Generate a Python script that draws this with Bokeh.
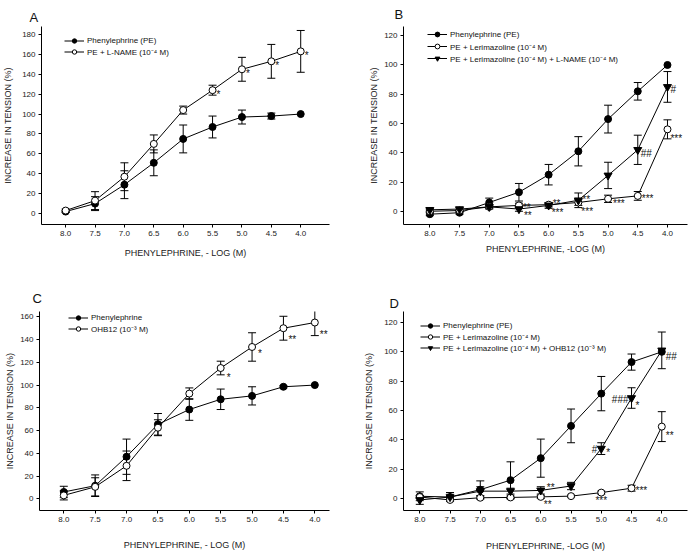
from bokeh.plotting import figure
from bokeh.models import (Range1d, FixedTicker, Whisker, TeeHead, ColumnDataSource,
                          Legend, LegendItem, PrintfTickFormatter)
from bokeh.layouts import row, column
from bokeh.embed import file_html
from bokeh.resources import INLINE
from bokeh.core.properties import value

FONT = "Liberation Sans"

# Phenylephrine concentrations, -log(M)
conc = [8.0, 7.5, 7.0, 6.5, 6.0, 5.5, 5.0, 4.5, 4.0]

# Panel A
pe_a = [2, 10, 29, 51, 75, 87, 97, 98, 100]
pe_a_err = [1, 7, 14, 13, 14, 11, 7, 3, 0]
lname_a = [3, 13, 37, 70, 104, 124, 145, 153, 163]
lname_a_err = [1.5, 9, 14, 9, 4, 5, 12, 17, 21]

# Panel B
pe_b = [-2, -1, 6, 13, 25, 41, 63, 82, 100]
pe_b_err = [1, 1, 3, 6, 7, 10, 9.5, 6, 0]
ler_b = [0, 0.5, 3, 4, 4.5, 6, 8.5, 10.5, 56]
ler_b_err = [1, 1, 1, 1.5, 1.5, 2, 2.5, 3, 6.5]
lerln_b = [1, 1.5, 3, 1.5, 4, 7.5, 24.5, 42, 85]
lerln_b_err = [1, 1, 1.5, 1.5, 2, 5, 9, 10, 10.5]

# Panel C
pe_c = [6, 11.5, 37, 65.5, 78.5, 87.5, 90.5, 98.5, 100]
pe_c_err = [5, 9.5, 15.5, 9.5, 9.5, 9, 8, 1, 0]
ohb_c = [3, 10.5, 29, 62.5, 92.5, 115, 133.5, 150, 155]
ohb_c_err = [4, 8, 13, 7, 5, 6, 12.5, 10.5, 11.5]

# Panel D
pe_d = [1.5, 1, 6, 12.5, 27.5, 49.5, 71.5, 93, 100]
pe_d_err = [3, 3, 6, 12.5, 13, 11.5, 11.7, 5.5, 0]
ler_d = [1, -1, 0.5, 0.7, 1.1, 1.6, 4, 7, 49]
ler_d_err = [1, 1, 1, 1, 1, 0.7, 1, 2, 10.2]
lerohb_d = [-1, 1, 5, 5, 5.5, 8.5, 34, 68.5, 101]
lerohb_d_err = [3, 3, 3, 2, 2.5, 2.5, 4, 7, 12.5]

xticks = [8.0, 7.5, 7.0, 6.5, 6.0, 5.5, 5.0, 4.5, 4.0]

MARKERS = {
    "filled": dict(marker="circle", size=7, fill_color="black"),
    "open": dict(marker="circle", size=7, fill_color="white"),
    "tri": dict(marker="inverted_triangle", size=8, fill_color="black"),
}


def make_panel(letter, series, anns, xlab, ymax_tick, x_rng, y_rng, borders,
               title_off, title_standoff, leg_pos, leg_row, ylab_standoff, xlab_standoff):
    left, right, top, bottom = borders
    p = figure(width=347, height=277, output_backend="svg", toolbar_location=None,
               x_range=Range1d(*x_rng), y_range=Range1d(*y_rng),
               min_border_left=left, min_border_right=right,
               min_border_top=top, min_border_bottom=bottom)
    p.outline_line_color = None
    p.grid.visible = False
    p.background_fill_color = "white"
    p.border_fill_color = "white"

    p.title.text = letter
    p.title.align = "left"
    p.title.offset = title_off
    p.title.standoff = title_standoff
    p.title.text_font = FONT
    p.title.text_font_size = "13px"
    p.title.text_font_style = "normal"
    p.title.text_color = "#111111"

    p.xaxis.ticker = FixedTicker(ticks=xticks)
    p.xaxis.formatter = PrintfTickFormatter(format="%.1f")
    p.yaxis.ticker = FixedTicker(ticks=list(range(0, ymax_tick + 1, 20)))
    p.axis.major_tick_in = 0
    p.axis.major_tick_out = 3
    p.axis.minor_tick_line_color = None
    p.axis.axis_line_color = "black"
    p.axis.major_tick_line_color = "black"
    p.axis.major_label_text_font = FONT
    p.axis.major_label_text_font_size = "8px"
    p.axis.major_label_text_color = "#222222"
    p.axis.major_label_standoff = 3
    p.axis.axis_label_text_font = FONT
    p.axis.axis_label_text_font_size = "9px"
    p.axis.axis_label_text_font_style = "normal"
    p.axis.axis_label_text_color = "#222222"
    p.xaxis.axis_label = xlab
    p.yaxis.axis_label = "INCREASE IN TENSION (%)"
    p.yaxis.axis_label_standoff = ylab_standoff
    p.xaxis.axis_label_standoff = xlab_standoff

    items = []
    values = {}
    for key, label, ys, errs, mk in series:
        ln = p.line(conc, ys, line_color="black", line_width=1)
        xs_e = [x for x, e in zip(conc, errs) if e > 0]
        up = [y + e for y, e in zip(ys, errs) if e > 0]
        lo = [y - e for y, e in zip(ys, errs) if e > 0]
        src = ColumnDataSource(dict(x=xs_e, upper=up, lower=lo))
        p.add_layout(Whisker(source=src, base="x", upper="upper", lower="lower",
                             line_color="black", line_width=1,
                             upper_head=TeeHead(size=8, line_color="black", line_width=1),
                             lower_head=TeeHead(size=8, line_color="black", line_width=1)))
        values[key] = ys
        items.append((label, ln, key, mk))

    marks = {}
    for label, ln, key, mk in items:
        marks[key] = p.scatter(conc, values[key], line_color="black", line_width=1, **MARKERS[mk])

    # significance marks next to the points they refer to
    ax, ay, at, dx, dy, al = [], [], [], [], [], []
    for key, xv, txt, ox, oy, align in anns:
        ax.append(xv)
        ay.append(values[key][conc.index(xv)])
        at.append(txt)
        dx.append(ox)
        dy.append(oy)
        al.append(align)
    if ax:
        asrc = ColumnDataSource(dict(x=ax, y=ay, text=at, dx=dx, dy=dy, align=al))
        p.text(x="x", y="y", text="text", x_offset="dx", y_offset="dy", text_align="align",
               source=asrc, text_font=value(FONT), text_font_size="10px",
               text_baseline="middle", text_color="#111111")

    # legend, anchored from the top-left corner of the frame
    frame_h = 277 - top - bottom
    lx, lrow1 = leg_pos
    n = len(items)
    leg_top = lrow1 - leg_row / 2
    leg_h = n * leg_row
    legend = Legend(items=[LegendItem(label=lab, renderers=[ln, marks[k]])
                           for lab, ln, k, mk in items],
                    location=(lx, frame_h - leg_top - leg_h),
                    padding=0, margin=0, spacing=0,
                    glyph_width=20, glyph_height=leg_row, label_height=leg_row,
                    label_standoff=3, label_text_font=FONT, label_text_font_size="8px",
                    label_text_color="#111111", border_line_color=None,
                    background_fill_alpha=0)
    p.add_layout(legend)
    return p


# borders shared along each row (top/bottom) and each column (left/right)
COL1 = (39, 18)
COL2 = (56, 7)
ROW1 = (25, 53)
ROW2 = (34, 44)

pa = make_panel(
    "A",
    [("pe", "Phenylephrine (PE)", pe_a, pe_a_err, "filled"),
     ("ln", "PE + L-NAME (10\u207b\u2074 M)", lname_a, lname_a_err, "open")],
    [("ln", 5.5, "*", 4, 4, "left"), ("ln", 5.0, "*", 4, 4, "left"),
     ("ln", 4.5, "*", 4, 4, "left"), ("ln", 4.0, "*", 4, 4, "left")],
    "PHENYLEPHRINE, - LOG (M)", 180, (8.411, 3.51), (-11, 188),
    COL1 + ROW1, -12, 4, (23, 15), 11, 6, 9)

pb = make_panel(
    "B",
    [("pe", "Phenylephrine (PE)", pe_b, pe_b_err, "filled"),
     ("ler", "PE + Lerimazoline (10\u207b\u2074 M)", ler_b, ler_b_err, "open"),
     ("lln", "PE + Lerimazoline (10\u207b\u2074 M) + L-NAME (10\u207b\u2074 M)", lerln_b, lerln_b_err, "tri")],
    [("ler", 6.5, "**", 4, 2, "left"), ("lln", 6.5, "**", 5, 6, "left"),
     ("ler", 6.0, "**", 4, -1, "left"), ("lln", 6.0, "***", 3, 7, "left"),
     ("lln", 5.5, "**", 4, -1, "left"), ("ler", 5.5, "***", 3, 9, "left"),
     ("ler", 5.0, "***", 5, 5, "left"), ("lln", 4.5, "##", 3, 4, "left"),
     ("ler", 4.5, "***", 4, 3, "left"), ("lln", 4.0, "#", 3, 3, "left"),
     ("ler", 4.0, "***", 3, 9, "left")],
    "PHENYLEPHRINE, -LOG (M)", 120, (8.443, 3.663), (-9.05, 126.3),
    COL2 + ROW1, -9, 9, (24, 9), 12, 2, 5)

pc = make_panel(
    "C",
    [("pe", "Phenylephrine", pe_c, pe_c_err, "filled"),
     ("ohb", "OHB12 (10\u207b\u00b3 M)", ohb_c, ohb_c_err, "open")],
    [("ohb", 5.5, "*", 6, 9, "left"), ("ohb", 5.0, "*", 6, 7, "left"),
     ("ohb", 4.5, "**", 5, 11, "left"), ("ohb", 4.0, "**", 5, 12, "left")],
    "PHENYLEPHRINE, - LOG (M)", 160, (8.387, 3.766), (-10.3, 164.7),
    COL1 + ROW2, -7, 12, (29, 6), 11, 2, 15)

pd_ = make_panel(
    "D",
    [("pe", "Phenylephrine (PE)", pe_d, pe_d_err, "filled"),
     ("ler", "PE + Lerimazoline (10\u207b\u2074 M)", ler_d, ler_d_err, "open"),
     ("lo", "PE + Lerimazoline (10\u207b\u2074 M) + OHB12 (10\u207b\u00b3 M)", lerohb_d, lerohb_d_err, "tri")],
    [("lo", 6.0, "**", 6, -3, "left"), ("ler", 6.0, "**", 3, 8, "left"),
     ("ler", 5.0, "***", 0, 8, "center"), ("lo", 5.0, "#", -4, 1, "right"),
     ("lo", 5.0, "*", 5, 4, "left"), ("lo", 4.5, "###", -3, 1, "right"),
     ("lo", 4.5, "*", 4, 7, "left"), ("ler", 4.5, "***", 4, 2, "left"),
     ("lo", 4.0, "##", 4, 6, "left"), ("ler", 4.0, "**", 4, 9, "left")],
    "PHENYLEPHRINE, -LOG (M)", 120, (8.269, 3.575), (-8.2, 127.5),
    COL2 + ROW2, -14, 2, (17, 14), 11, 7, 16)

layout = column(row(pa, pb), row(pc, pd_))
open("out.html", "w").write(file_html(layout, INLINE))
